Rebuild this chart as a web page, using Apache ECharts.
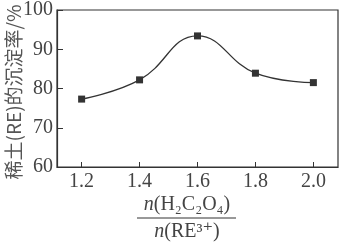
<!DOCTYPE html>
<html><head><meta charset="utf-8">
<script src="https://cdn.jsdelivr.net/npm/echarts@6/dist/echarts.min.js"></script>
<style>html,body{margin:0;padding:0;background:#fff}#c{width:342px;height:245px}</style>
</head><body><div id="c"></div>
<script>
const ratios = [1.2, 1.4, 1.6, 1.8, 2.0];
const rates = [77.3, 82.2, 93.4, 83.9, 81.5];
const xTicks = [1.2, 1.4, 1.6, 1.8, 2.0];
const yTicks = [60, 70, 80, 90, 100];
const yTitle = '稀土(RE)的沉淀率/%';

const ink = '#333';
const serif = '"Liberation Serif","DejaVu Serif",serif';
const chart = echarts.init(document.getElementById('c'), null, {renderer:'canvas'});
chart.setOption({
  animation: false,
  backgroundColor: '#fff',
  grid: {left: 57, right: 4, top: 10, bottom: 78, show: true, borderColor: ink, borderWidth: 1.2},
  xAxis: {
    type: 'value', min: 1.115, max: 2.085,
    axisLine: {lineStyle: {color: ink, width: 1.2}},
    axisTick: {inside: true, length: 5, customValues: xTicks, lineStyle: {color: ink}},
    axisLabel: {customValues: xTicks, formatter: v => v.toFixed(1), color: '#444', fontFamily: serif, fontSize: 20, margin: 5},
    splitLine: {show: false}
  },
  yAxis: {
    type: 'value', min: 60, max: 100, interval: 10,
    axisLine: {show: true, lineStyle: {color: ink, width: 1.2}},
    axisTick: {show: true, inside: true, length: 6, lineStyle: {color: ink}},
    axisLabel: {color: '#444', fontFamily: serif, fontSize: 20, margin: 4},
    splitLine: {show: false}
  },
  series: [{
    type: 'line', data: ratios.map((x, i) => [x, rates[i]]),
    smooth: 0.45, symbol: 'rect', symbolSize: 7,
    lineStyle: {color: ink, width: 1.3},
    itemStyle: {color: ink}
  }],
  graphic: [
    {type: 'text', x: 14, y: 92, rotation: Math.PI/2, style: {text: yTitle, fill: '#555', font: '19px "Noto Sans CJK SC", sans-serif', align: 'center', verticalAlign: 'middle'}},
    {type: 'text', x: 187, y: 205, style: {
      text: '{i|n}(H₂C₂O₄)', align: 'center', verticalAlign: 'middle', fill: '#444',
      font: '20px ' + serif,
      rich: {i: {fontStyle: 'italic', fontFamily: serif, fontSize: 20, fill: '#444'}}
    }},
    {type: 'line', shape: {x1: 137, y1: 218, x2: 236, y2: 218}, style: {stroke: ink, lineWidth: 1}},
    {type: 'text', x: 187, y: 232, style: {
      text: '{i|n}(RE³⁺)', align: 'center', verticalAlign: 'middle', fill: '#444',
      font: '20px ' + serif,
      rich: {i: {fontStyle: 'italic', fontFamily: serif, fontSize: 20, fill: '#444'}}
    }}
  ]
});
</script></body></html>
